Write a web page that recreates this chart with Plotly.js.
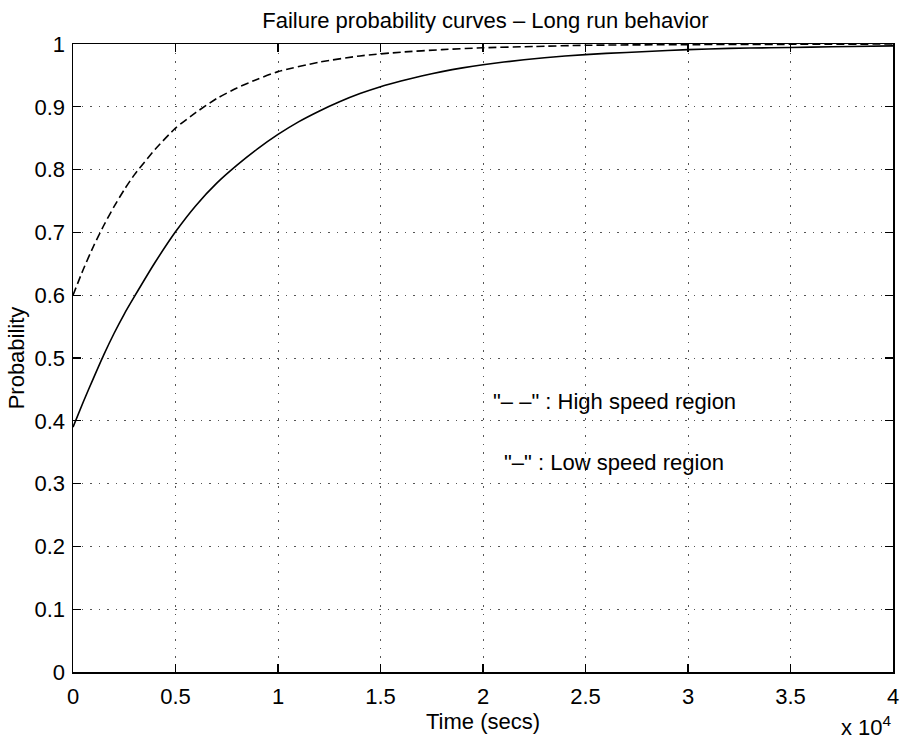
<!DOCTYPE html>
<html>
<head>
<meta charset="utf-8">
<script src="https://cdn.plot.ly/plotly-3.0.1.min.js"></script>
<style>html,body{margin:0;padding:0;background:#fff;}#chart{width:904px;height:740px;}</style>
</head>
<body>
<div id="chart"></div>
<script>
// Time (seconds) and failure probabilities
const timeHigh = [0, 500, 1000, 1500, 2000, 2500, 3000, 4000, 5000, 6000, 7000, 8000, 9000, 10000, 12000, 14000, 16000, 18000, 20000, 22500, 25000, 30000, 35000, 40000];
const probHigh = [0.600, 0.641, 0.678, 0.711, 0.741, 0.768, 0.792, 0.832, 0.866, 0.891, 0.913, 0.930, 0.944, 0.956, 0.971, 0.981, 0.987, 0.991, 0.994, 0.996, 0.998, 0.999, 0.9995, 1.0];

const timeLow = [0, 500, 1000, 1500, 2000, 2500, 3000, 4000, 5000, 6000, 7000, 8000, 9000, 10000, 11000, 12000, 13000, 14000, 15000, 16000, 17000, 18000, 19000, 20000, 22000, 24000, 26000, 28000, 30000, 32000, 34000, 36000, 38000, 40000];
const probLow = [0.390, 0.430, 0.468, 0.505, 0.539, 0.570, 0.598, 0.652, 0.701, 0.743, 0.778, 0.807, 0.833, 0.856, 0.876, 0.893, 0.908, 0.921, 0.932, 0.941, 0.949, 0.956, 0.962, 0.967, 0.975, 0.981, 0.985, 0.988, 0.991, 0.993, 0.994, 0.995, 0.996, 0.997];

const xTickVals = [0, 5000, 10000, 15000, 20000, 25000, 30000, 35000, 40000];
const xTickText = ['0', '0.5', '1', '1.5', '2', '2.5', '3', '3.5', '4'];
const yTickVals = [0, 0.1, 0.2, 0.3, 0.4, 0.5, 0.6, 0.7, 0.8, 0.9, 1];

const FONT = 'Liberation Sans, Arial, Helvetica, sans-serif';
const FS = 22;

const traces = [
  {x: timeHigh, y: probHigh, type: 'scatter', mode: 'lines', line: {color: '#000', width: 1.6, dash: '8px,4px', shape: 'spline', smoothing: 0.6}, hoverinfo: 'skip'},
  {x: timeLow, y: probLow, type: 'scatter', mode: 'lines', line: {color: '#000', width: 1.6, shape: 'spline', smoothing: 0.6}, hoverinfo: 'skip'}
];

const layout = {
  width: 904, height: 740,
  margin: {l: 73, r: 11, t: 44, b: 68},
  paper_bgcolor: '#fff', plot_bgcolor: '#fff',
  showlegend: false,
  font: {family: FONT, size: FS, color: '#000'},
  title: {text: 'Failure probability curves \u2013 Long run behavior', x: 0.537, xanchor: 'center', y: 0.973, yanchor: 'middle', font: {family: FONT, size: FS, color: '#000'}},
  xaxis: {
    range: [0, 40000], tickvals: xTickVals, ticktext: xTickText,
    ticks: 'inside', ticklen: 8, tickwidth: 1.2, tickcolor: '#000',
    showline: true, linecolor: '#000', linewidth: 1.5, mirror: 'ticks',
    showgrid: true, gridcolor: '#555', gridwidth: 1, griddash: '1.5px,7px',
    zeroline: false, ticklabelstandoff: 4,
    tickfont: {family: FONT, size: FS, color: '#000'},
    title: {text: 'Time (secs)', standoff: 0, font: {family: FONT, size: FS, color: '#000'}}
  },
  yaxis: {
    range: [0, 1], tickvals: yTickVals,
    ticks: 'inside', ticklen: 8, tickwidth: 1.2, tickcolor: '#000',
    showline: true, linecolor: '#000', linewidth: 1.5, mirror: 'ticks',
    showgrid: true, gridcolor: '#555', gridwidth: 1, griddash: '1.5px,7px',
    zeroline: false, ticklabelstandoff: 2,
    tickfont: {family: FONT, size: FS, color: '#000'},
    title: {text: 'Probability', standoff: 4, font: {family: FONT, size: FS, color: '#000'}}
  },
  annotations: [
    {x: 26400, y: 0.430, xref: 'x', yref: 'y', text: '"\u2013 \u2013" : High speed region', showarrow: false, xanchor: 'center', yanchor: 'middle', font: {family: FONT, size: FS, color: '#000'}},
    {x: 26400, y: 0.333, xref: 'x', yref: 'y', text: '"\u2013" : Low speed region', showarrow: false, xanchor: 'center', yanchor: 'middle', font: {family: FONT, size: FS, color: '#000'}},
    {x: 0, y: 0, xref: 'paper', yref: 'paper', text: 'x 10<sup>4</sup>', showarrow: false, xanchor: 'center', yanchor: 'middle', font: {family: FONT, size: FS, color: '#000'}}
  ]
};
// place the exponent label in pixel terms relative to the plot area
layout.annotations[2].x = (866 - 73) / (904 - 73 - 11);
layout.annotations[2].y = -(726 - 672) / (672 - 44);

Plotly.newPlot('chart', traces, layout, {staticPlot: true, displayModeBar: false});
</script>
</body>
</html>
